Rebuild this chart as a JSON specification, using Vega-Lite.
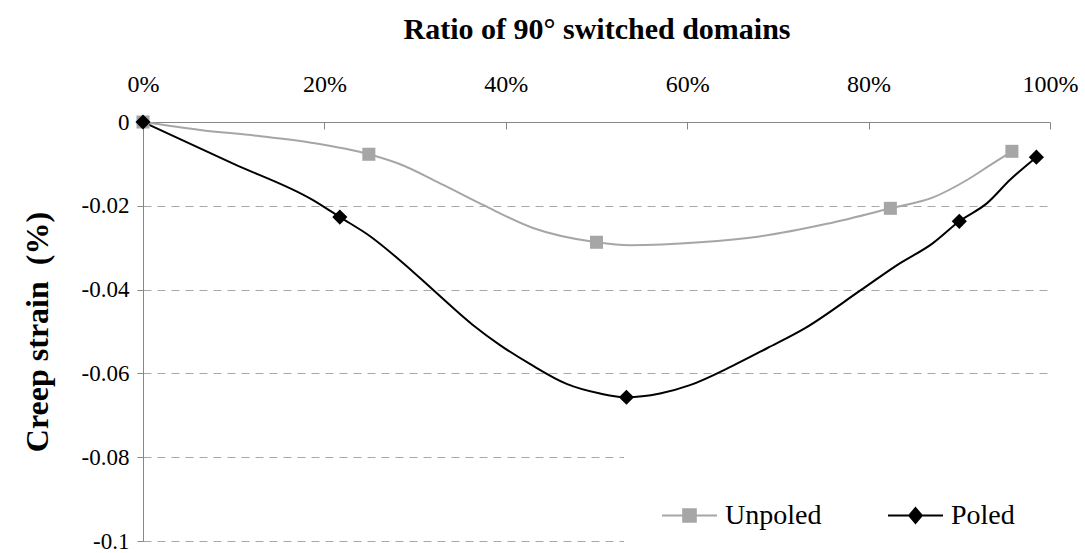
{
  "$schema": "https://vega.github.io/schema/vega-lite/v6.json",
  "width": 907,
  "height": 419,
  "autosize": {"type": "none"},
  "padding": {"left": 143, "top": 122, "right": 35, "bottom": 12},
  "background": "white",
  "data": {
    "values": [
      {"series": "Unpoled", "ratio": 0, "strain": 0, "measured": true},
      {"series": "Unpoled", "ratio": 6.3, "strain": -0.0019, "measured": false},
      {"series": "Unpoled", "ratio": 12.6, "strain": -0.0033, "measured": false},
      {"series": "Unpoled", "ratio": 18.7, "strain": -0.005, "measured": false},
      {"series": "Unpoled", "ratio": 24.9, "strain": -0.0077, "measured": true},
      {"series": "Unpoled", "ratio": 28.0, "strain": -0.0098, "measured": false},
      {"series": "Unpoled", "ratio": 33.1, "strain": -0.015, "measured": false},
      {"series": "Unpoled", "ratio": 37.5, "strain": -0.0198, "measured": false},
      {"series": "Unpoled", "ratio": 43.0, "strain": -0.0253, "measured": false},
      {"series": "Unpoled", "ratio": 50.0, "strain": -0.0287, "measured": true},
      {"series": "Unpoled", "ratio": 53.7, "strain": -0.0294, "measured": false},
      {"series": "Unpoled", "ratio": 61.4, "strain": -0.0287, "measured": false},
      {"series": "Unpoled", "ratio": 68.0, "strain": -0.0273, "measured": false},
      {"series": "Unpoled", "ratio": 75.4, "strain": -0.0243, "measured": false},
      {"series": "Unpoled", "ratio": 82.4, "strain": -0.0206, "measured": true},
      {"series": "Unpoled", "ratio": 87.1, "strain": -0.018, "measured": false},
      {"series": "Unpoled", "ratio": 90.8, "strain": -0.0139, "measured": false},
      {"series": "Unpoled", "ratio": 93.4, "strain": -0.0103, "measured": false},
      {"series": "Unpoled", "ratio": 95.8, "strain": -0.007, "measured": true},
      {"series": "Poled", "ratio": 0, "strain": 0, "measured": true},
      {"series": "Poled", "ratio": 10.0, "strain": -0.01, "measured": false},
      {"series": "Poled", "ratio": 18.7, "strain": -0.0186, "measured": false},
      {"series": "Poled", "ratio": 21.7, "strain": -0.0227, "measured": true},
      {"series": "Poled", "ratio": 25.0, "strain": -0.0272, "measured": false},
      {"series": "Poled", "ratio": 28.7, "strain": -0.0337, "measured": false},
      {"series": "Poled", "ratio": 32.0, "strain": -0.0401, "measured": false},
      {"series": "Poled", "ratio": 36.4, "strain": -0.0485, "measured": false},
      {"series": "Poled", "ratio": 39.4, "strain": -0.0533, "measured": false},
      {"series": "Poled", "ratio": 42.7, "strain": -0.0578, "measured": false},
      {"series": "Poled", "ratio": 46.7, "strain": -0.0625, "measured": false},
      {"series": "Poled", "ratio": 50.4, "strain": -0.0648, "measured": false},
      {"series": "Poled", "ratio": 53.3, "strain": -0.0657, "measured": true},
      {"series": "Poled", "ratio": 57.0, "strain": -0.0648, "measured": false},
      {"series": "Poled", "ratio": 60.3, "strain": -0.0628, "measured": false},
      {"series": "Poled", "ratio": 65.0, "strain": -0.0582, "measured": false},
      {"series": "Poled", "ratio": 68.8, "strain": -0.054, "measured": false},
      {"series": "Poled", "ratio": 73.0, "strain": -0.0492, "measured": false},
      {"series": "Poled", "ratio": 79.1, "strain": -0.0402, "measured": false},
      {"series": "Poled", "ratio": 83.1, "strain": -0.0342, "measured": false},
      {"series": "Poled", "ratio": 87.1, "strain": -0.0289, "measured": false},
      {"series": "Poled", "ratio": 90.0, "strain": -0.0237, "measured": true},
      {"series": "Poled", "ratio": 93.1, "strain": -0.0193, "measured": false},
      {"series": "Poled", "ratio": 95.6, "strain": -0.0138, "measured": false},
      {"series": "Poled", "ratio": 98.5, "strain": -0.0084, "measured": true}
    ]
  },
  "encoding": {
    "x": {
      "field": "ratio",
      "type": "quantitative",
      "scale": {"domain": [0, 100], "nice": false, "zero": false},
      "axis": {
        "orient": "top",
        "title": "Ratio of 90° switched domains",
        "values": [0, 20, 40, 60, 80, 100],
        "labelExpr": "datum.value + '%'",
        "labelFlush": false,
        "labelOverlap": false,
        "grid": false,
        "tickSize": -7,
        "labelPadding": 33,
        "titlePadding": 28,
        "labelFont": "Liberation Serif",
        "labelFontSize": 24,
        "titleFont": "Liberation Serif",
        "titleFontSize": 30
      }
    },
    "y": {
      "field": "strain",
      "type": "quantitative",
      "scale": {"domain": [-0.1, 0], "nice": false, "zero": false},
      "axis": {
        "title": "Creep strain\u00a0 (%)",
        "values": [-0.1, -0.08, -0.06, -0.04, -0.02, 0],
        "labelExpr": "datum.value == 0 ? '0' : '-' + format(-datum.value, '~g')",
        "labelOverlap": false,
        "labelFlush": false,
        "grid": true,
        "gridDash": [8, 6],
        "gridColor": "#a8a8a8",
        "gridWidth": 1,
        "tickSize": 6,
        "labelPadding": 8,
        "titlePadding": 27,
        "labelFont": "Liberation Serif",
        "labelFontSize": 23,
        "titleFont": "Liberation Serif",
        "titleFontSize": 32
      }
    }
  },
  "layer": [
    {
      "mark": {"type": "line", "interpolate": "monotone", "strokeWidth": 2},
      "encoding": {
        "color": {
          "field": "series",
          "type": "nominal",
          "scale": {"domain": ["Unpoled", "Poled"], "range": ["#a6a6a6", "#000000"]},
          "legend": {
            "title": null,
            "values": ["Unpoled"],
            "orient": "none",
            "legendX": 481,
            "legendY": 328,
            "symbolType": "M-1,0L1,0M-0.23,-0.23L0.23,-0.23L0.23,0.23L-0.23,0.23Z",
            "symbolFillColor": "#a6a6a6",
            "symbolStrokeColor": "#a6a6a6"
          }
        },
        "opacity": {
          "field": "series",
          "type": "nominal",
          "scale": {"domain": ["Poled", "Unpoled"], "range": [1, 1]},
          "legend": {
            "title": null,
            "values": ["Poled"],
            "orient": "none",
            "legendX": 707,
            "legendY": 328,
            "symbolType": "M-1,0L1,0M0,-0.27L0.23,0L0,0.27L-0.23,0Z",
            "symbolFillColor": "#000000",
            "symbolStrokeColor": "#000000"
          }
        }
      }
    },
    {
      "transform": [{"filter": "datum.measured && datum.series === 'Unpoled'"}],
      "mark": {"type": "point", "shape": "square", "filled": true, "size": 170, "color": "#a6a6a6", "opacity": 1}
    },
    {
      "transform": [{"filter": "datum.measured && datum.series === 'Poled'"}],
      "mark": {"type": "point", "shape": "diamond", "filled": true, "size": 230, "color": "#000000", "opacity": 1}
    }
  ],
  "config": {
    "view": {"stroke": null},
    "font": "Liberation Serif",
    "axis": {
      "domainColor": "#878787",
      "domainWidth": 1,
      "tickColor": "#878787",
      "tickWidth": 1,
      "labelColor": "#000000",
      "titleFontWeight": "bold",
      "titleColor": "#000000"
    },
    "legend": {
      "fillColor": "white",
      "padding": 37,
      "labelFont": "Liberation Serif",
      "labelFontSize": 28,
      "labelColor": "#000000",
      "labelOffset": 7,
      "symbolSize": 3025,
      "symbolStrokeWidth": 2,
      "symbolOpacity": 1
    }
  }
}
